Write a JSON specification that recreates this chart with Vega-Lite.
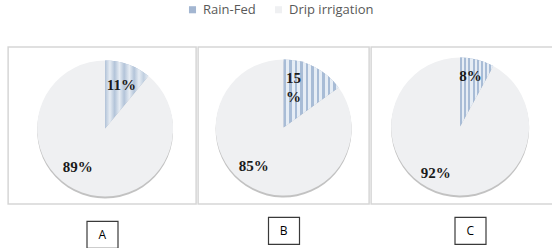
{
  "$schema": "https://vega.github.io/schema/vega-lite/v6.json",
  "padding": {"left": 7, "top": 3, "right": 0, "bottom": 0},
  "background": "white",
  "data": {"values": [
    {"panel": "A", "type": "Rain-Fed", "value": 11, "label": "11%"},
    {"panel": "A", "type": "Drip irrigation", "value": 89, "label": "89%"},
    {"panel": "B", "type": "Rain-Fed", "value": 15, "label": "15\n%"},
    {"panel": "B", "type": "Drip irrigation", "value": 85, "label": "85%"},
    {"panel": "C", "type": "Rain-Fed", "value": 8, "label": "8%"},
    {"panel": "C", "type": "Drip irrigation", "value": 92, "label": "92%"}
  ]},
  "config": {
    "view": {"stroke": "#d6d6d6", "strokeWidth": 1.5},
    "text": {"font": "Liberation Serif", "fontWeight": "bold", "fontSize": 15, "color": "#1a1a1a", "lineBreak": "\n", "lineHeight": 19}
  },
  "spacing": 0,
  "hconcat": [
    {
      "spacing": 15, "center": true,
      "vconcat": [
        {
          "width": 188, "height": 157,
          "view": {"stroke": "#d6d6d6", "strokeWidth": 1.5},
          "transform": [{"filter": "datum.panel === 'A'"}],
          "encoding": {
            "theta": {"field": "value", "type": "quantitative", "stack": true},
            "order": {"field": "type", "type": "nominal", "sort": "descending"}
          },
          "layer": [
            {"mark": {"type": "arc", "outerRadius": 68, "xOffset": 3, "yOffset": 5, "fill": "#9a9a9a", "opacity": 0.6}},
            {"mark": {"type": "arc", "outerRadius": 68, "xOffset": 3, "yOffset": 3},
             "encoding": {"color": {"field": "type", "type": "nominal",
               "scale": {"domain": ["Rain-Fed", "Drip irrigation"], "range": ["#a3b6d1", "#eff0f2"]},
               "legend": {"title": null, "orient": "none", "legendX": 178, "legendY": -44, "direction": "horizontal", "symbolType": "square", "symbolSize": 50, "symbolStrokeWidth": 0, "labelFont": "Open Sans", "labelFontSize": 13, "labelColor": "#595959", "columnPadding": 16}}}},
            {"transform": [{"filter": "datum.type === 'Rain-Fed'"}],
             "mark": {"type": "arc", "outerRadius": 68, "xOffset": 3, "yOffset": 3, "fill": {"gradient": "linear", "x1": 0, "y1": 0, "x2": 1, "y2": 0, "stops": [
               {"offset": 0, "color": "#b3c4d9"}, {"offset": 0.11, "color": "#e6ecf3"}, {"offset": 0.22, "color": "#b3c4d9"}, {"offset": 0.33, "color": "#e6ecf3"}, {"offset": 0.44, "color": "#b3c4d9"}, {"offset": 0.56, "color": "#e6ecf3"}, {"offset": 0.67, "color": "#b3c4d9"}, {"offset": 0.78, "color": "#e6ecf3"}, {"offset": 0.89, "color": "#c0cfe0"}, {"offset": 1, "color": "#e9eef4"}]}}},
            {"mark": {"type": "text", "radius": 48, "xOffset": 3, "yOffset": 3, "dy": 2},
             "encoding": {"text": {"condition": {"test": "datum.type === 'Rain-Fed'", "field": "label", "type": "nominal"}, "value": ""}}},
            {"mark": {"type": "text", "radius": 48, "xOffset": 3, "yOffset": 3, "dx": -11, "dy": -7},
             "encoding": {"text": {"condition": {"test": "datum.type === 'Drip irrigation'", "field": "label", "type": "nominal"}, "value": ""}}}
          ]
        },
        {
          "width": 31, "height": 27,
          "view": {"stroke": "#3a3a3a", "strokeWidth": 1.2},
          "transform": [{"filter": "datum.panel === 'A' && datum.type === 'Rain-Fed'"}],
          "mark": {"type": "text", "font": "Open Sans", "fontWeight": "normal", "fontSize": 12, "color": "black", "baseline": "middle"},
          "encoding": {"text": {"field": "panel", "type": "nominal"}}
        }
      ]
    },
    {
      "spacing": 11, "center": true,
      "vconcat": [
        {
          "width": 171, "height": 157,
          "view": {"stroke": "#d6d6d6", "strokeWidth": 1.5},
          "transform": [{"filter": "datum.panel === 'B'"}],
          "encoding": {
            "theta": {"field": "value", "type": "quantitative", "stack": true},
            "order": {"field": "type", "type": "nominal", "sort": "descending"}
          },
          "layer": [
            {"mark": {"type": "arc", "outerRadius": 68, "yOffset": 4, "fill": "#9a9a9a", "opacity": 0.6}},
            {"mark": {"type": "arc", "outerRadius": 68, "yOffset": 2},
             "encoding": {"color": {"field": "type", "type": "nominal",
               "scale": {"domain": ["Rain-Fed", "Drip irrigation"], "range": ["#a3b6d1", "#eff0f2"]}}}},
            {"transform": [{"filter": "datum.type === 'Rain-Fed'"}],
             "mark": {"type": "arc", "outerRadius": 68, "yOffset": 2, "fill": {"gradient": "linear", "x1": 0, "y1": 0, "x2": 1, "y2": 0, "stops": [
               {"offset": 0, "color": "#a8bcd6"}, {"offset": 0.045, "color": "#a8bcd6"}, {"offset": 0.045, "color": "#e6edf5"}, {"offset": 0.1, "color": "#e6edf5"},
               {"offset": 0.1, "color": "#a8bcd6"}, {"offset": 0.145, "color": "#a8bcd6"}, {"offset": 0.145, "color": "#e6edf5"}, {"offset": 0.2, "color": "#e6edf5"},
               {"offset": 0.2, "color": "#a8bcd6"}, {"offset": 0.245, "color": "#a8bcd6"}, {"offset": 0.245, "color": "#e6edf5"}, {"offset": 0.3, "color": "#e6edf5"},
               {"offset": 0.3, "color": "#a8bcd6"}, {"offset": 0.345, "color": "#a8bcd6"}, {"offset": 0.345, "color": "#e6edf5"}, {"offset": 0.4, "color": "#e6edf5"},
               {"offset": 0.4, "color": "#a8bcd6"}, {"offset": 0.445, "color": "#a8bcd6"}, {"offset": 0.445, "color": "#e6edf5"}, {"offset": 0.5, "color": "#e6edf5"},
               {"offset": 0.5, "color": "#a8bcd6"}, {"offset": 0.545, "color": "#a8bcd6"}, {"offset": 0.545, "color": "#e6edf5"}, {"offset": 0.6, "color": "#e6edf5"},
               {"offset": 0.6, "color": "#a8bcd6"}, {"offset": 0.645, "color": "#a8bcd6"}, {"offset": 0.645, "color": "#e6edf5"}, {"offset": 0.7, "color": "#e6edf5"},
               {"offset": 0.7, "color": "#a8bcd6"}, {"offset": 0.745, "color": "#a8bcd6"}, {"offset": 0.745, "color": "#e6edf5"}, {"offset": 0.8, "color": "#e6edf5"},
               {"offset": 0.8, "color": "#a8bcd6"}, {"offset": 0.845, "color": "#a8bcd6"}, {"offset": 0.845, "color": "#e6edf5"}, {"offset": 0.9, "color": "#e6edf5"},
               {"offset": 0.9, "color": "#a8bcd6"}, {"offset": 0.945, "color": "#a8bcd6"}, {"offset": 0.945, "color": "#e6edf5"}, {"offset": 1, "color": "#e6edf5"}]}}},
            {"mark": {"type": "text", "radius": 48, "yOffset": 2, "dx": -12, "dy": -7},
             "encoding": {"text": {"condition": {"test": "datum.type === 'Rain-Fed'", "field": "label", "type": "nominal"}, "value": ""}}},
            {"mark": {"type": "text", "radius": 48, "yOffset": 2, "dx": -8, "dy": -4},
             "encoding": {"text": {"condition": {"test": "datum.type === 'Drip irrigation'", "field": "label", "type": "nominal"}, "value": ""}}}
          ]
        },
        {
          "width": 31, "height": 27,
          "view": {"stroke": "#3a3a3a", "strokeWidth": 1.2},
          "transform": [{"filter": "datum.panel === 'B' && datum.type === 'Rain-Fed'"}],
          "mark": {"type": "text", "font": "Open Sans", "fontWeight": "normal", "fontSize": 12, "color": "black", "baseline": "middle"},
          "encoding": {"text": {"field": "panel", "type": "nominal"}}
        }
      ]
    },
    {
      "spacing": 11, "center": true,
      "vconcat": [
        {
          "width": 198, "height": 157,
          "view": {"stroke": "#d6d6d6", "strokeWidth": 1.5},
          "transform": [{"filter": "datum.panel === 'C'"}],
          "encoding": {
            "theta": {"field": "value", "type": "quantitative", "stack": true},
            "order": {"field": "type", "type": "nominal", "sort": "descending"}
          },
          "layer": [
            {"mark": {"type": "arc", "outerRadius": 69, "xOffset": -10, "yOffset": 3, "fill": "#9a9a9a", "opacity": 0.6}},
            {"mark": {"type": "arc", "outerRadius": 69, "xOffset": -10, "yOffset": 1},
             "encoding": {"color": {"field": "type", "type": "nominal",
               "scale": {"domain": ["Rain-Fed", "Drip irrigation"], "range": ["#a3b6d1", "#eff0f2"]}}}},
            {"transform": [{"filter": "datum.type === 'Rain-Fed'"}],
             "mark": {"type": "arc", "outerRadius": 69, "xOffset": -10, "yOffset": 1, "fill": {"gradient": "linear", "x1": 0, "y1": 0, "x2": 1, "y2": 0, "stops": [
               {"offset": 0, "color": "#a8bcd6"}, {"offset": 0.06, "color": "#a8bcd6"}, {"offset": 0.06, "color": "#e6edf5"}, {"offset": 0.125, "color": "#e6edf5"},
               {"offset": 0.125, "color": "#a8bcd6"}, {"offset": 0.185, "color": "#a8bcd6"}, {"offset": 0.185, "color": "#e6edf5"}, {"offset": 0.25, "color": "#e6edf5"},
               {"offset": 0.25, "color": "#a8bcd6"}, {"offset": 0.31, "color": "#a8bcd6"}, {"offset": 0.31, "color": "#e6edf5"}, {"offset": 0.375, "color": "#e6edf5"},
               {"offset": 0.375, "color": "#a8bcd6"}, {"offset": 0.435, "color": "#a8bcd6"}, {"offset": 0.435, "color": "#e6edf5"}, {"offset": 0.5, "color": "#e6edf5"},
               {"offset": 0.5, "color": "#a8bcd6"}, {"offset": 0.56, "color": "#a8bcd6"}, {"offset": 0.56, "color": "#e6edf5"}, {"offset": 0.625, "color": "#e6edf5"},
               {"offset": 0.625, "color": "#a8bcd6"}, {"offset": 0.685, "color": "#a8bcd6"}, {"offset": 0.685, "color": "#e6edf5"}, {"offset": 0.75, "color": "#e6edf5"},
               {"offset": 0.75, "color": "#a8bcd6"}, {"offset": 0.81, "color": "#a8bcd6"}, {"offset": 0.81, "color": "#e6edf5"}, {"offset": 0.875, "color": "#e6edf5"},
               {"offset": 0.875, "color": "#a8bcd6"}, {"offset": 0.935, "color": "#a8bcd6"}, {"offset": 0.935, "color": "#e6edf5"}, {"offset": 1, "color": "#e6edf5"}]}}},
            {"mark": {"type": "text", "radius": 50, "xOffset": -10, "yOffset": 1, "dx": -2, "dy": -2},
             "encoding": {"text": {"condition": {"test": "datum.type === 'Rain-Fed'", "field": "label", "type": "nominal"}, "value": ""}}},
            {"mark": {"type": "text", "radius": 50, "xOffset": -10, "yOffset": 1, "dx": -12, "dy": -2},
             "encoding": {"text": {"condition": {"test": "datum.type === 'Drip irrigation'", "field": "label", "type": "nominal"}, "value": ""}}}
          ]
        },
        {
          "width": 31, "height": 27,
          "view": {"stroke": "#3a3a3a", "strokeWidth": 1.2},
          "transform": [{"filter": "datum.panel === 'C' && datum.type === 'Rain-Fed'"}],
          "mark": {"type": "text", "font": "Open Sans", "fontWeight": "normal", "fontSize": 12, "color": "black", "baseline": "middle"},
          "encoding": {"text": {"field": "panel", "type": "nominal"}}
        }
      ]
    }
  ]
}
